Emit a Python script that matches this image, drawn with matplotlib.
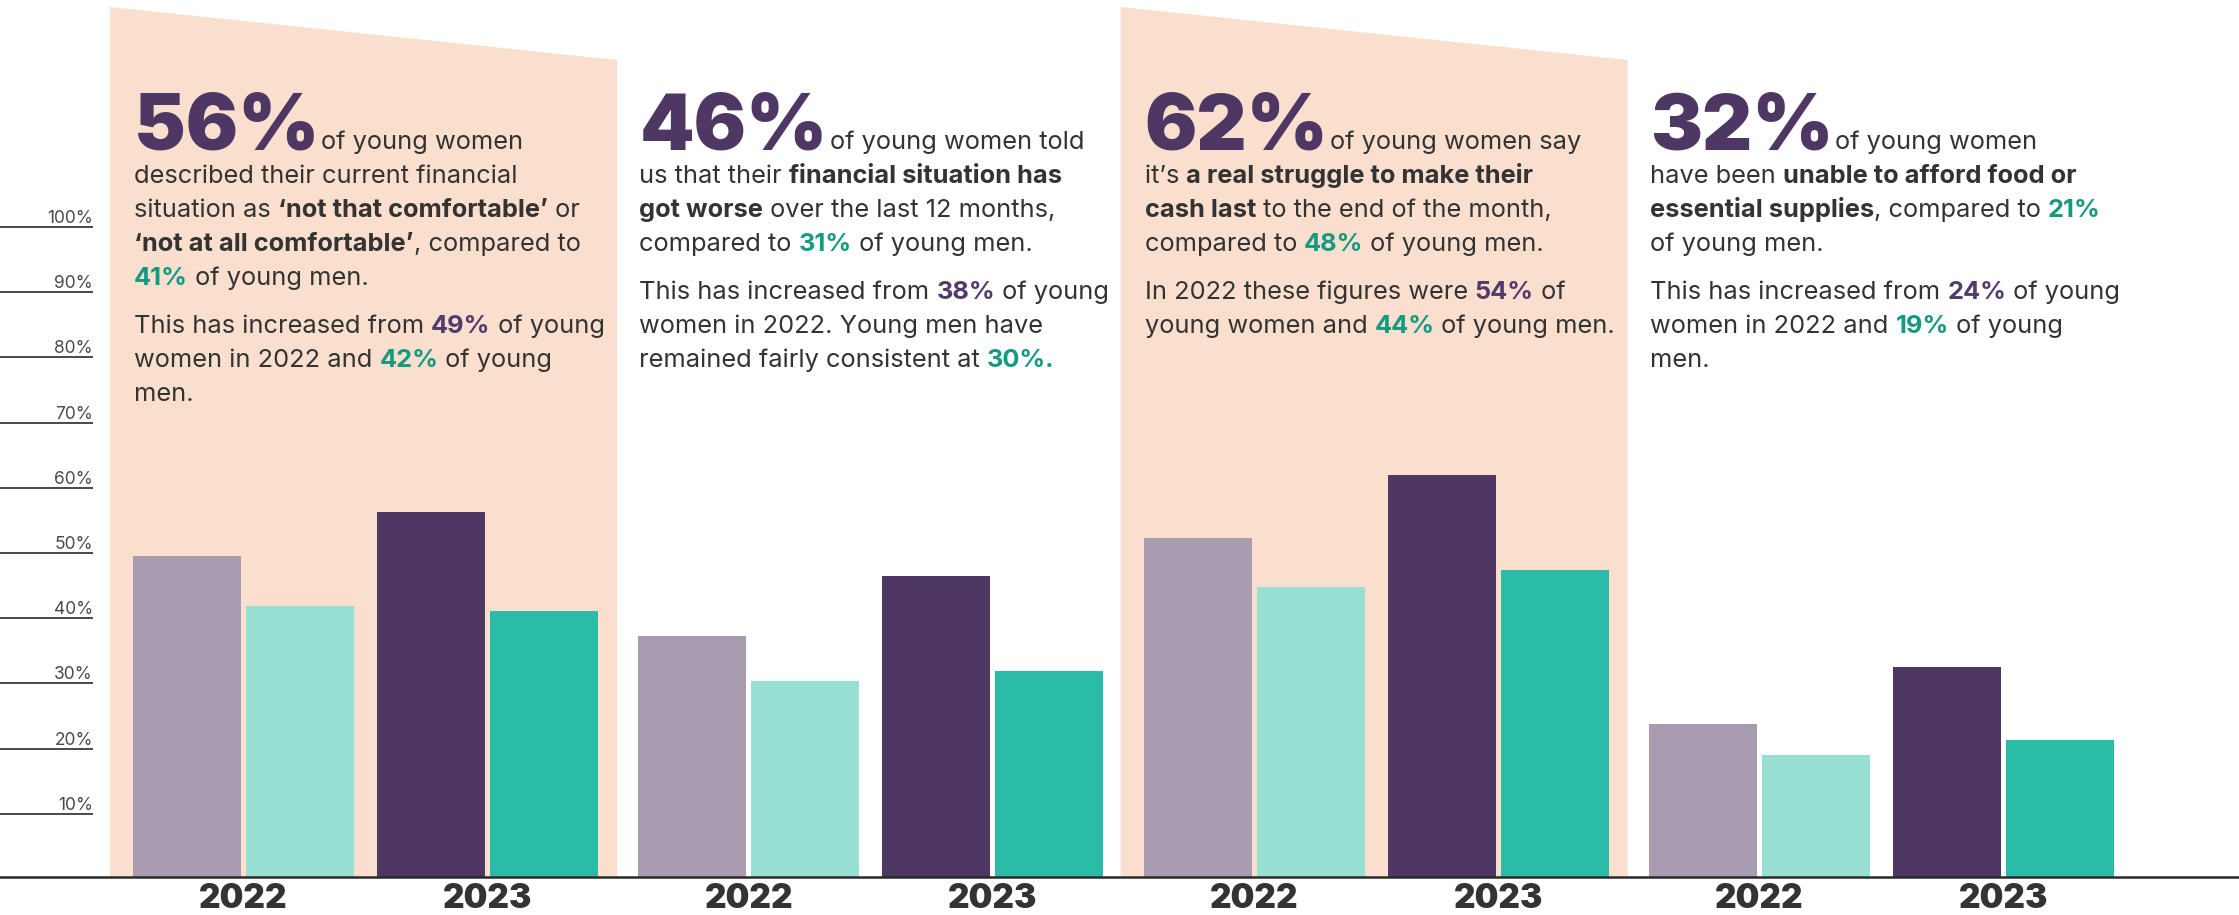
import matplotlib
matplotlib.use("Agg")
import matplotlib.pyplot as plt
from matplotlib.patches import Polygon
from matplotlib.transforms import IdentityTransform, offset_copy

# ---------------- data ----------------
years = ["2022", "2023"]
women_2022 = [49.3, 37.0, 52.0, 23.5]
men_2022 = [41.6, 30.0, 44.5, 18.7]
women_2023 = [56.0, 46.2, 61.6, 32.2]
men_2023 = [40.8, 31.6, 47.1, 21.0]
y_ticks = [10, 20, 30, 40, 50, 60, 70, 80, 90, 100]
y_tick_labels = ["10%", "20%", "30%", "40%", "50%", "60%", "70%", "80%", "90%", "100%"]
headlines = ["56%", "46%", "62%", "32%"]
shaded = [True, False, True, False]

# text: n = normal, b = bold, p = purple bold, g = green bold
panel1 = [
    [[("of young women", "n")],
     [("described their current financial", "n")],
     [("situation as ", "n"), ("‘not that comfortable’", "b"), (" or", "n")],
     [("‘not at all comfortable’", "b"), (", compared to", "n")],
     [("41%", "g"), (" of young men.", "n")]],
    [[("This has increased from ", "n"), ("49%", "p"), (" of young", "n")],
     [("women in 2022 and ", "n"), ("42%", "g"), (" of young", "n")],
     [("men.", "n")]],
]
panel2 = [
    [[("of young women told", "n")],
     [("us that their ", "n"), ("financial situation has", "b")],
     [("got worse", "b"), (" over the last 12 months,", "n")],
     [("compared to ", "n"), ("31%", "g"), (" of young men.", "n")]],
    [[("This has increased from ", "n"), ("38%", "p"), (" of young", "n")],
     [("women in 2022. Young men have", "n")],
     [("remained fairly consistent at ", "n"), ("30%.", "g")]],
]
panel3 = [
    [[("of young women say", "n")],
     [("it’s ", "n"), ("a real struggle to make their", "b")],
     [("cash last", "b"), (" to the end of the month,", "n")],
     [("compared to ", "n"), ("48%", "g"), (" of young men.", "n")]],
    [[("In 2022 these figures were ", "n"), ("54%", "p"), (" of", "n")],
     [("young women and ", "n"), ("44%", "g"), (" of young men.", "n")]],
]
panel4 = [
    [[("of young women", "n")],
     [("have been ", "n"), ("unable to afford food or", "b")],
     [("essential supplies", "b"), (", compared to ", "n"), ("21%", "g")],
     [("of young men.", "n")]],
    [[("This has increased from ", "n"), ("24%", "p"), (" of young", "n")],
     [("women in 2022 and ", "n"), ("19%", "g"), (" of young", "n")],
     [("men.", "n")]],
]
panels = [panel1, panel2, panel3, panel4]

# ---------------- style ----------------
W, H = 2239, 915
DPI = 100
BASE_Y = 877           # baseline, px from top
PX_PER_PCT = 6.52
GROUP0 = 133
GROUP_PITCH = 505.3
BAR_W = 108
OFFSETS = [0, 113, 244, 357]
C_W22 = "#a99bb0"
C_M22 = "#97e0d3"
C_W23 = "#4e3762"
C_M23 = "#2bbca7"
C_SHADE = "#fadfce"
C_TEXT = "#333333"
C_PURPLE = "#533a6d"
C_GREEN = "#139a80"
FONT = ["Inter", "Lato", "DejaVu Sans"]
BODY_SIZE = 18.3
BIG_SIZE = 56

fig = plt.figure(figsize=(W / DPI, H / DPI), dpi=DPI)
fig.patch.set_facecolor("white")
ax = fig.add_axes([0, (H - BASE_Y) / H, 1, BASE_Y / H])
ax.set_xlim(0, W)
ax.set_ylim(0, BASE_Y / PX_PER_PCT)
ax.axis("off")

group_x = [GROUP0 + GROUP_PITCH * i for i in range(len(women_2022))]

# shaded panels
for gx, sh in zip(group_x, shaded):
    if sh:
        x0, x1 = gx - 23, gx + 484
        top_l = (BASE_Y - 7) / PX_PER_PCT
        top_r = (BASE_Y - 60) / PX_PER_PCT
        ax.add_patch(Polygon([(x0, 0), (x0, top_l), (x1, top_r), (x1, 0)],
                             closed=True, facecolor=C_SHADE, edgecolor="none", zorder=0))

# bars
series = [(women_2022, C_W22), (men_2022, C_M22), (women_2023, C_W23), (men_2023, C_M23)]
for (vals, col), off in zip(series, OFFSETS):
    ax.bar([gx + off for gx in group_x], vals, width=BAR_W, align="edge",
           color=col, edgecolor="none", zorder=2)

# baseline
ax.axhline(0, color="#2a2a2a", lw=1.8, zorder=3, clip_on=False)

# decorative y ticks
tline = offset_copy(ax.transData, fig=fig, x=0, y=-2, units="dots")
ax.hlines(y_ticks, 0, 93, transform=tline, color="#3a3a3a", lw=1.3, zorder=3)
tlab = offset_copy(ax.transData, fig=fig, x=0, y=2, units="dots")
for v, lab in zip(y_ticks, y_tick_labels):
    ax.text(93, v, lab, transform=tlab, ha="right", va="baseline",
            fontsize=12.5, color="#4a4a4a", family=FONT)

# year labels
tyear = offset_copy(ax.transData, fig=fig, x=0, y=-31, units="dots")
for gx in group_x:
    for k, yr in enumerate(years):
        cx = gx + OFFSETS[2 * k] + (OFFSETS[2 * k + 1] + BAR_W - OFFSETS[2 * k]) / 2
        ax.text(cx, 0, yr, transform=tyear, ha="center", va="baseline",
                fontsize=24, fontweight="black", color=C_TEXT, family=FONT, clip_on=False)

# ---------------- rich text ----------------
renderer = fig.canvas.get_renderer()
STYLES = {
    "n": dict(color=C_TEXT, fontweight="normal"),
    "b": dict(color=C_TEXT, fontweight="bold"),
    "p": dict(color=C_PURPLE, fontweight="bold"),
    "g": dict(color=C_GREEN, fontweight="bold"),
}
ident = IdentityTransform()


def advance(s, size, weight):
    t1 = fig.text(0, 0, s + "|", fontsize=size, fontweight=weight, family=FONT, transform=ident)
    t2 = fig.text(0, 0, "|", fontsize=size, fontweight=weight, family=FONT, transform=ident)
    w = t1.get_window_extent(renderer).width - t2.get_window_extent(renderer).width
    t1.remove()
    t2.remove()
    return w


def draw_segments(x, y_top, segs, size):
    for s, st in segs:
        kw = STYLES[st]
        fig.text(x, H - y_top, s, fontsize=size, family=FONT, va="baseline", ha="left",
                 transform=ident, **kw)
        x += advance(s, size, kw["fontweight"])
    return x


LINE_STEP = 34
PARA_GAP = 48
for gx, big, paras in zip(group_x, headlines, panels):
    y = 149
    x0 = gx + 1
    first = True
    for pi, para in enumerate(paras):
        if pi > 0:
            y += PARA_GAP - LINE_STEP
        for line in para:
            if first:
                fig.text(x0, H - y, big, fontsize=BIG_SIZE, fontweight="black", family=FONT,
                         color=C_W23, va="baseline", ha="left", transform=ident)
                xx = x0 + advance(big, BIG_SIZE, "black") + 2
                draw_segments(xx, y, line, BODY_SIZE)
                first = False
            else:
                draw_segments(x0, y, line, BODY_SIZE)
            y += LINE_STEP

fig.savefig("out.png", dpi=DPI, facecolor="white")
